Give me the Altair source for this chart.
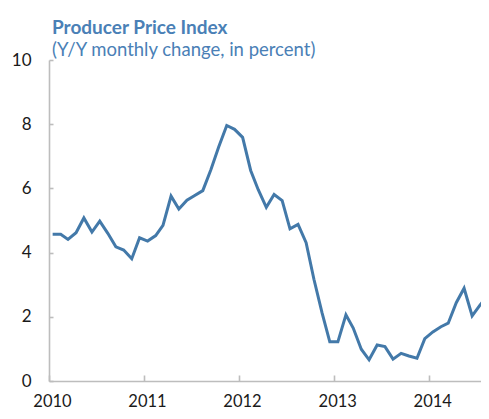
import altair as alt
import pandas as pd

months = pd.date_range("2010-01-01", periods=56, freq="MS") + pd.Timedelta(days=14)
ppi = [
    4.57, 4.57, 4.41, 4.62, 5.08, 4.64, 4.98, 4.60, 4.18, 4.08, 3.81, 4.46,
    4.36, 4.53, 4.85, 5.76, 5.36, 5.63, 5.78, 5.93, 6.58, 7.29, 7.96, 7.84,
    7.59, 6.56, 5.96, 5.41, 5.81, 5.62, 4.74, 4.88, 4.31, 3.17, 2.13, 1.22,
    1.22, 2.06, 1.65, 0.99, 0.66, 1.12, 1.07, 0.68, 0.86, 0.78, 0.71, 1.32,
    1.53, 1.69, 1.80, 2.44, 2.89, 2.03, 2.36, 2.67,
]
year_ticks = [2010, 2011, 2012, 2013, 2014]
y_ticks = [0, 2, 4, 6, 8, 10]

df = pd.DataFrame({
    "date": [d.strftime("%Y-%m-%dT00:00:00") for d in months[:len(ppi)]],
    "value": ppi,
})

FONT = "Lato"
GRAY = "#bdbdbd"
BLUE = "#4a80b6"

xscale = alt.Scale(
    domain=[alt.DateTime(year=2010, month=1, date=1),
            alt.DateTime(year=2014, month=7, date=19)],
    nice=False,
)
yscale = alt.Scale(domain=[0, 10], nice=False)
xvals = [alt.DateTime(year=y, month=1, date=1) for y in year_ticks]

x_main = alt.Axis(values=xvals, format="%Y", title=None, grid=False, ticks=False,
                  domain=True, domainColor=GRAY, domainWidth=1.6,
                  labelFont=FONT, labelFontSize=16.5, labelColor="#1a1a1a",
                  labelPadding=12, labelOffset=3, labelFlush=False, orient="bottom")
y_main = alt.Axis(values=y_ticks, title=None, grid=False, ticks=False,
                  domain=True, domainColor=GRAY, domainWidth=1.6,
                  labelFont=FONT, labelFontSize=17, labelColor="#1a1a1a",
                  labelPadding=18, labelFlush=False, orient="left")
x_ticks = alt.Axis(values=xvals, title=None, grid=False, ticks=True, tickSize=6,
                   tickColor=GRAY, tickWidth=1.6, domain=False, labels=False,
                   offset=-6, orient="bottom")
y_tick_ax = alt.Axis(values=y_ticks, title=None, grid=False, ticks=True, tickSize=4,
                     tickColor=GRAY, tickWidth=1.6, domain=False, labels=False,
                     offset=-4, orient="left")

base = alt.Chart(df)
line = base.mark_line(color="#4379a9", strokeWidth=3, clip=True).encode(
    x=alt.X("date:T", scale=xscale, axis=x_main),
    y=alt.Y("value:Q", scale=yscale, axis=y_main),
)
tick_layer = base.mark_line(opacity=0).encode(
    x=alt.X("date:T", scale=xscale, axis=x_ticks),
    y=alt.Y("value:Q", scale=yscale, axis=y_tick_ax),
)

chart = alt.layer(line, tick_layer).resolve_axis(
    x="independent", y="independent"
).properties(
    width=432,
    height=321,
    autosize=alt.AutoSizeParams(type="none"),
    padding={"left": 41, "top": 52, "right": 0, "bottom": 30},
    title=alt.TitleParams(
        text="Producer Price Index",
        subtitle="(Y/Y monthly change, in percent)",
        anchor="start", frame="group", orient="top",
        font=FONT, fontSize=19, fontWeight="bold", color=BLUE,
        subtitleFont=FONT, subtitleFontSize=18.5, subtitleColor=BLUE,
        subtitlePadding=3, offset=-8, dx=3,
    ),
).configure_view(stroke=None)

chart.save("out.html", embed_options={"renderer": "svg", "actions": False})
